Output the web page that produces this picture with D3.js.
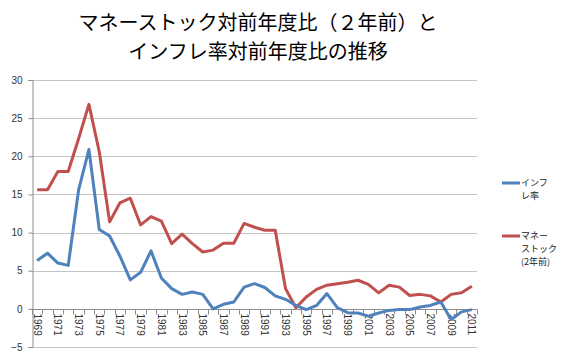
<!DOCTYPE html>
<html>
<head>
<meta charset="utf-8">
<script src="https://cdn.jsdelivr.net/npm/d3@7"></script>
<style>
  body { margin: 0; background: #fff; }
  text { font-family: "Noto Sans CJK JP", "Noto Sans", sans-serif; }
</style>
</head>
<body>
<div id="chart"></div>
<script>
// data
var years = [];
for (var yr = 1969; yr <= 2011; yr++) years.push(yr);

var inflation = [6.35, 7.3, 6.0, 5.7, 15.55, 20.9, 10.4, 9.55, 6.9, 3.8,
                 4.8, 7.6, 4.05, 2.65, 1.9, 2.2, 1.9, 0.0, 0.6, 0.9,
                 2.85, 3.3, 2.8, 1.7, 1.25, 0.45, -0.1, 0.45, 2.0, 0.15,
                 -0.5, -0.55, -0.95, -0.55, -0.2, -0.1, -0.1, 0.25, 0.45, 0.9,
                 -1.4, -0.4, -0.1];

var moneyStock = [15.6, 15.6, 18.0, 18.0, 22.3, 26.8, 20.6, 11.4, 13.9, 14.5,
                  11.0, 12.1, 11.5, 8.55, 9.8, 8.55, 7.45, 7.7, 8.6, 8.6,
                  11.2, 10.7, 10.3, 10.3, 2.65, 0.15, 1.55, 2.55, 3.1, 3.3,
                  3.5, 3.75, 3.2, 2.1, 3.1, 2.85, 1.75, 1.9, 1.7, 0.9,
                  1.9, 2.1, 2.95];

var yTicks = [-5, 0, 5, 10, 15, 20, 25, 30];
var titleLines = ["マネーストック対前年度比（２年前）と", "インフレ率対前年度比の推移"];

const width = 570, height = 362;
const plotLeft = 32, plotRight = 477, plotTop = 80, plotBottom = 347;

const svg = d3.select("#chart").append("svg")
    .attr("width", width)
    .attr("height", height);

var x = d3.scaleBand()
    .domain(years)
    .range([plotLeft, plotRight]);

var yScale = d3.scaleLinear()
    .domain([-5, 30])
    .range([plotBottom, plotTop]);

// title
svg.selectAll("text.title")
    .data(titleLines)
    .enter()
    .append("text")
    .attr("class", "title")
    .attr("x", 258)
    .attr("y", function(d, i){ return 30 + i * 29 })
    .attr("text-anchor", "middle")
    .style("font-size", "20px")
    .style("fill", "#000")
    .text(function(d){ return d });

// gridlines
svg.append("g")
    .selectAll("line")
    .data(yTicks)
    .enter()
    .append("line")
    .attr("x1", plotLeft)
    .attr("x2", plotRight)
    .attr("y1", function(d){ return Math.round(yScale(d)) + 0.5 })
    .attr("y2", function(d){ return Math.round(yScale(d)) + 0.5 })
    .attr("stroke", "#c4c4c4")
    .attr("stroke-width", 1);

// y axis
var yAxis = svg.append("g")
    .attr("transform", "translate(" + (plotLeft + 0.5) + ",0)")
    .call(d3.axisLeft(yScale).tickValues(yTicks).tickSize(4).tickPadding(6));
yAxis.select(".domain").attr("stroke", "#8c8c8c");
yAxis.selectAll(".tick line").attr("stroke", "#8c8c8c");
yAxis.selectAll(".tick text")
    .style("font-size", "10px")
    .style("font-family", "'Liberation Sans', 'DejaVu Sans', sans-serif")
    .attr("fill", "#333");

// x axis at zero
var y0 = Math.round(yScale(0)) + 0.5;
svg.append("line")
    .attr("x1", plotLeft).attr("x2", plotRight)
    .attr("y1", y0).attr("y2", y0)
    .attr("stroke", "#8c8c8c");

var bounds = years.map(function(d){ return x(d) });
bounds.push(plotRight);
svg.append("g")
    .selectAll("line")
    .data(bounds)
    .enter()
    .append("line")
    .attr("x1", function(d){ return Math.round(d) + 0.5 })
    .attr("x2", function(d){ return Math.round(d) + 0.5 })
    .attr("y1", y0)
    .attr("y2", y0 + 5)
    .attr("stroke", "#8c8c8c");

svg.append("g")
    .selectAll("text")
    .data(years.filter(function(d){ return (d - 1969) % 2 == 0 }))
    .enter()
    .append("text")
    .attr("transform", function(d){
        return "translate(" + (x(d) + x.bandwidth() / 2) + "," + (y0 + 4) + ") rotate(90)";
    })
    .attr("dy", "0.35em")
    .style("font-size", "10px")
    .style("font-family", "'Liberation Sans', 'DejaVu Sans', sans-serif")
    .attr("fill", "#333")
    .text(function(d){ return d });

// lines
var line = d3.line()
    .x(function(d, i){ return x(years[i]) + x.bandwidth() / 2 })
    .y(function(d){ return yScale(d) });

svg.append("path")
    .datum(moneyStock)
    .attr("d", line)
    .attr("fill", "none")
    .attr("stroke", "#C0504D")
    .attr("stroke-width", 3)
    .attr("stroke-linejoin", "round");

svg.append("path")
    .datum(inflation)
    .attr("d", line)
    .attr("fill", "none")
    .attr("stroke", "#4F81BD")
    .attr("stroke-width", 3)
    .attr("stroke-linejoin", "round");

// legend
var legend = [
    {color: "#4F81BD", y: 183, lines: ["インフ", "レ率"]},
    {color: "#C0504D", y: 236, lines: ["マネー", "ストック", "(2年前)"]}
];

legend.forEach(function(l){
    svg.append("line")
        .attr("x1", 502).attr("x2", 520)
        .attr("y1", l.y).attr("y2", l.y)
        .attr("stroke", l.color)
        .attr("stroke-width", 3);
    svg.append("g")
        .selectAll("text")
        .data(l.lines)
        .enter()
        .append("text")
        .attr("x", 521)
        .attr("y", function(d, i){ return l.y + i * 13 })
        .attr("dy", "0.35em")
        .style("font-size", "9px")
        .attr("fill", "#222")
        .text(function(d){ return d });
});
</script>
</body>
</html>
